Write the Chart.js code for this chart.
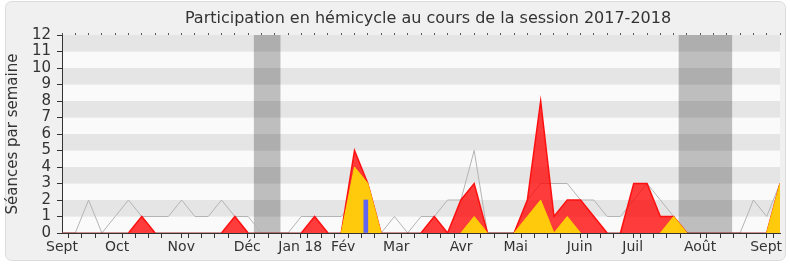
<!DOCTYPE html>
<html><head><meta charset="utf-8">
<script src="https://cdn.jsdelivr.net/npm/chart.js@4/dist/chart.umd.min.js"></script>
<style>html,body{margin:0;padding:0;background:#fff;overflow:hidden}</style>
</head><body>
<canvas id="c" width="790" height="267" style="width:790px;height:267px;display:block"></canvas>
<script>
// ---- data ----
const titleText = "Participation en hémicycle au cours de la session 2017-2018";
const yAxisTitle = "Séances par semaine";
// weekly values (55 weeks, Sept 2017 -> Sept 2018)
const presences     = [0,0,0,0,0,0,1,0,0,0, 0,0,0,1,0,0,0,0,0,1, 0,0,5,3,0,0,0,0,1,0, 2,3,0,0,0,2,8,1,2,2, 1,0,0,3,3,1,1,0,0,0, 0,0,0,0,3];
const interventions = [0,0,0,0,0,0,0,0,0,0, 0,0,0,0,0,0,0,0,0,0, 0,0,4,3,0,0,0,0,0,0, 0,1,0,0,0,1,2,0,1,0, 0,0,0,0,0,0,1,0,0,0, 0,0,0,0,3];
const mediane       = [0,0,2,0,1,2,1,1,1,2, 1,1,2,1,1,0,0,0,1,1, 1,1,2,1,0,1,0,1,1,2, 2,5,0,0,0,2,3,3,3,2, 2,1,1,2,3,2,1,0,0,0, 0,0,2,1,3];
const questionsWeek = [22.85];
const questionsVal  = [2];
const monthLabels = ['Sept','Oct','Nov','Déc','Jan 18','Fév','Mar','Avr','Mai','Juin','Juil','Août','Sept'];
const monthWeeks  = [0, 4.15, 8.97, 13.93, 17.92, 21.15, 25.14, 30.02, 34.12, 38.93, 42.92, 47.99, 52.96];
const vacationStart = [14.43, 46.38];
const vacationEnd   = [16.43, 50.4];
const yTicks = [0,1,2,3,4,5,6,7,8,9,10,11,12];

const weeks = presences.map((_, i) => i);
const lastWeek = weeks[weeks.length - 1];
const toXY = arr => arr.map((v, i) => ({x: weeks[i], y: v}));

const FONT = 'DejaVu Sans';
Chart.defaults.font.family = FONT;
Chart.defaults.color = '#333';

const bottomTicks = Array.from(new Set(weeks.concat(monthWeeks))).sort((a, b) => a - b);
function monthLabelAt(v) {
  const k = monthWeeks.findIndex(m => Math.abs(m - v) < 1e-9);
  return k >= 0 ? monthLabels[k] : '';
}
const flatZero = ctx => ctx.p0.parsed.y === 0 && ctx.p1.parsed.y === 0;

const decor = {
  id: 'decor',
  beforeDraw(chart) {
    const {ctx, chartArea: a, scales: {x, y}} = chart;
    ctx.save();
    // outer frame
    ctx.fillStyle = '#f0f0f0';
    ctx.strokeStyle = '#dcdcdc';
    ctx.lineWidth = 1;
    ctx.beginPath();
    ctx.roundRect(5.5, 1.5, 780, 259, 6);
    ctx.fill();
    ctx.stroke();
    // horizontal stripes
    for (let k = 0; k < yTicks.length - 1; k++) {
      const yt = y.getPixelForValue(yTicks[k + 1]);
      const yb = y.getPixelForValue(yTicks[k]);
      ctx.fillStyle = (k % 2) ? '#e5e5e5' : '#fafafa';
      ctx.fillRect(a.left, yt, a.right - a.left, yb - yt);
    }
    // vacation bands
    ctx.fillStyle = 'rgba(0,0,0,0.24)';
    vacationStart.forEach((s, i) => {
      const x0 = x.getPixelForValue(s), x1 = x.getPixelForValue(vacationEnd[i]);
      ctx.fillRect(x0, a.top, x1 - x0, a.bottom - a.top);
    });
    ctx.restore();
  },
  afterDraw(chart) {
    const ctx = chart.ctx;
    ctx.save();
    ctx.font = '16px "' + FONT + '"';
    ctx.fillStyle = '#333';
    ctx.textAlign = 'center';
    ctx.textBaseline = 'middle';
    ctx.fillText(titleText, 428, 19);
    ctx.restore();
  }
};

new Chart(document.getElementById('c'), {
  type: 'line',
  data: {
    datasets: [
      {type: 'bar', data: questionsWeek.map((w, i) => ({x: w, y: questionsVal[i]})),
       backgroundColor: '#5f64f2', barThickness: 4, order: 0},
      {data: toXY(interventions), fill: 'origin', backgroundColor: 'rgba(255,210,10,0.95)',
       borderColor: '#ffd000', borderWidth: 1, order: 1,
       segment: {borderColor: c => flatZero(c) ? 'rgba(0,0,0,0)' : undefined}},
      {data: toXY(presences), fill: 'origin', backgroundColor: 'rgba(255,0,0,0.76)',
       borderColor: '#ff1010', borderWidth: 1.5, order: 2,
       segment: {borderColor: c => flatZero(c) ? 'rgba(150,0,0,0.55)' : undefined}},
      {data: toXY(mediane), fill: false, borderColor: '#b4b4b4', borderWidth: 1, order: 3}
    ]
  },
  options: {
    responsive: false, animation: false, devicePixelRatio: 1,
    layout: {padding: {left: 0, right: 10, top: 32, bottom: 0}},
    elements: {point: {radius: 0, hoverRadius: 0}, line: {tension: 0}},
    plugins: {legend: {display: false}, tooltip: {enabled: false}, title: {display: false}},
    scales: {
      x: {
        type: 'linear', position: 'bottom', min: 0, max: lastWeek, offset: false,
        grid: {drawOnChartArea: false, drawTicks: true, tickLength: 5,
               tickColor: c => (c.tick && Number.isInteger(c.tick.value)) ? '#333' : 'rgba(0,0,0,0)'},
        border: {color: '#333', width: 1},
        afterBuildTicks: s => { s.ticks = bottomTicks.map(v => ({value: v})); },
        ticks: {autoSkip: false, maxRotation: 0, minRotation: 0, padding: 1, color: '#333',
                font: {size: 14}, callback: v => monthLabelAt(v)},
        afterFit: s => { s.height = 34; }
      },
      x2: {
        type: 'linear', position: 'top', min: 0, max: lastWeek,
        grid: {drawOnChartArea: false, drawTicks: true, tickLength: 2, tickColor: '#555'},
        border: {display: false},
        afterBuildTicks: s => { s.ticks = weeks.map(v => ({value: v})); },
        ticks: {display: false},
        afterFit: s => { s.height = 3; }
      },
      y: {
        min: 0, max: 12,
        afterBuildTicks: s => { s.ticks = yTicks.map(v => ({value: v})); },
        ticks: {autoSkip: false, padding: 6, color: '#333', font: {size: 15}},
        grid: {drawOnChartArea: false, drawTicks: true, tickLength: 5, tickColor: '#333'},
        border: {color: '#333', width: 1},
        title: {display: true, text: yAxisTitle, color: '#333', font: {size: 15}, padding: {top: 4, bottom: 0}},
        afterFit: s => { s.width = 62; }
      }
    }
  },
  plugins: [decor]
});
</script>
</body></html>
